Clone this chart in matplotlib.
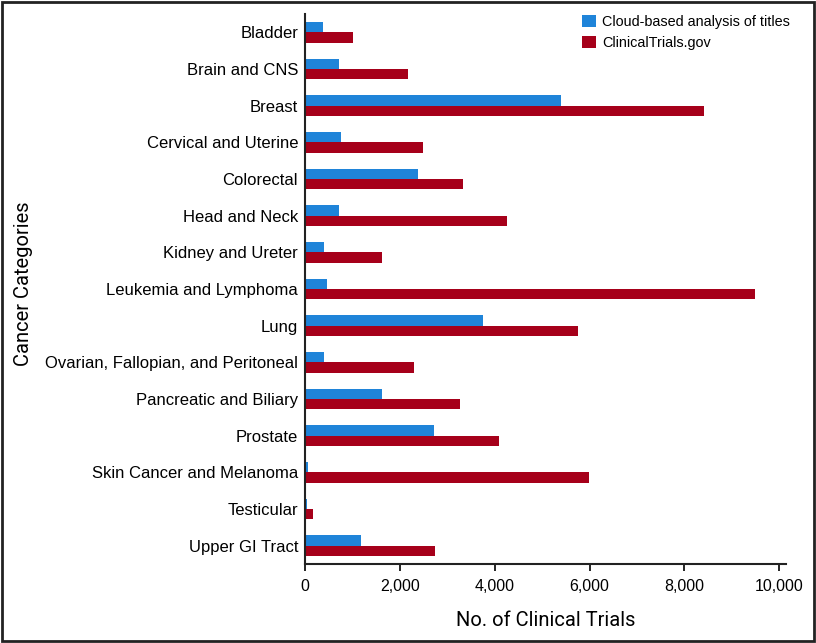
#!/usr/bin/env python3

import matplotlib
matplotlib.use('Agg')
import matplotlib.pyplot as plt
from matplotlib.patches import Rectangle
from matplotlib.ticker import FuncFormatter
import numpy as np


categories = ['Bladder', 'Brain and CNS', 'Breast', 'Cervical and Uterine',
              'Colorectal', 'Head and Neck', 'Kidney and Ureter',
              'Leukemia and Lymphoma', 'Lung',
              'Ovarian, Fallopian, and Peritoneal', 'Pancreatic and Biliary',
              'Prostate', 'Skin Cancer and Melanoma', 'Testicular',
              'Upper GI Tract']
cloud_counts = [375, 720, 5400, 755, 2375, 720, 410, 470, 3750, 410, 1615,
                2715, 55, 35, 1170]
ctgov_counts = [1020, 2165, 8410, 2480, 3335, 4265, 1615, 9480, 5750, 2305,
                3270, 4095, 5995, 160, 2750]
x_ticks = [0, 2000, 4000, 6000, 8000, 10000]

BLUE = '#1f84d9'
RED = '#a6001a'


def main():
    plt.rcParams['font.family'] = ['Liberation Sans', 'DejaVu Sans']
    fig = plt.figure(figsize=(8.16, 6.43), dpi=100)
    ax = fig.add_axes([305 / 816, 1 - 564 / 643, (786 - 305) / 816, (564 - 14) / 643])

    y = np.arange(len(categories))
    h = 0.28
    ax.barh(y - h / 2, cloud_counts, height=h, color=BLUE,
            label='Cloud-based analysis of titles')
    ax.barh(y + h / 2, ctgov_counts, height=h, color=RED,
            label='ClinicalTrials.gov')

    ax.set_ylim(len(categories) - 0.5, -0.5)
    ax.set_xlim(0, 10140)
    ax.set_yticks(y)
    ax.set_yticklabels(categories, fontsize=12)
    ax.tick_params(axis='y', length=0, pad=5)
    ax.set_xticks(x_ticks)
    ax.xaxis.set_major_formatter(FuncFormatter(lambda v, p: f'{int(v):,}'))
    ax.tick_params(axis='x', labelsize=11.5, length=5, width=1.2, pad=6)

    for side in ['top', 'right']:
        ax.spines[side].set_visible(False)
    for side in ['left', 'bottom']:
        ax.spines[side].set_linewidth(1.5)
        ax.spines[side].set_color('#222222')

    label_font = ['Roboto', 'DejaVu Sans']
    ax.set_xlabel('No. of Clinical Trials', fontsize=14.5, family=label_font,
                  labelpad=12)
    fig.text(24 / 816, 1 - 284 / 643, 'Cancer Categories', rotation=90,
             fontsize=14.5, family=label_font, ha='center', va='center')

    fig.legend(loc='upper left', bbox_to_anchor=(582 / 816, 1 - 15 / 643),
               frameon=False, fontsize=10.4, handlelength=0.95,
               handleheight=0.95, handletextpad=0.45, labelspacing=0.45,
               borderpad=0, borderaxespad=0)

    # frame around whole picture
    fig.patches.append(Rectangle((0.002, 0.003), 0.996, 0.994,
                                 transform=fig.transFigure, fill=False,
                                 edgecolor='#222222', linewidth=2))

    fig.savefig('out.png', dpi=100)


if __name__ == '__main__':
    main()
